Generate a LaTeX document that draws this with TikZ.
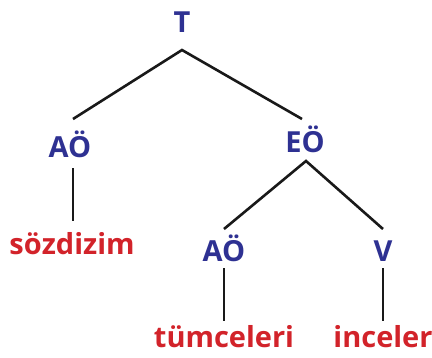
\documentclass[tikz,border=0pt]{standalone}
\usepackage{fontspec}
\setmainfont{Open Sans}
\definecolor{tblue}{HTML}{2E3192}
\definecolor{tred}{HTML}{D2232A}
\begin{document}
\begin{tikzpicture}[x=1pt,y=-1pt,
  cat/.style={font=\bfseries\fontsize{29}{29}\selectfont, text=tblue, inner sep=0pt, anchor=base},
  word/.style={font=\bfseries\fontsize{29}{29}\selectfont, text=tred, inner sep=0pt, anchor=base},
  edge/.style={line width=2.6pt, black!90}]
\useasboundingbox (0,0) rectangle (432,357);
\node[cat] (T) at (182,32) {T};
\node[cat] (A1) at (70,157) {AÖ};
\node[cat] (E) at (305,152) {EÖ};
\node[word] (s) at (72,254) {sözdizim};
\node[cat] (A2) at (224,261) {AÖ};
\node[cat] (V) at (383,261) {V};
\node[word] (t) at (224,347) {tümceleri};
\node[word] (i) at (383,347) {inceler};
\coordinate (Tb) at (182,50);
\coordinate (A1t) at (73,119);
\coordinate (Et) at (302,119);
\coordinate (A1b) at (73,168);
\coordinate (st) at (73,221);
\coordinate (Eb) at (306,161);
\coordinate (A2t) at (224,229);
\coordinate (Vt) at (383,229);
\coordinate (A2b) at (224,268);
\coordinate (tt) at (224,321);
\coordinate (Vb) at (383,268);
\coordinate (it) at (383,321);
\draw[edge] (A1t) -- (Tb) -- (Et);
\draw[edge] (A1b) -- (st);
\draw[edge] (A2t) -- (Eb) -- (Vt);
\draw[edge] (A2b) -- (tt);
\draw[edge] (Vb) -- (it);
\end{tikzpicture}
\end{document}
